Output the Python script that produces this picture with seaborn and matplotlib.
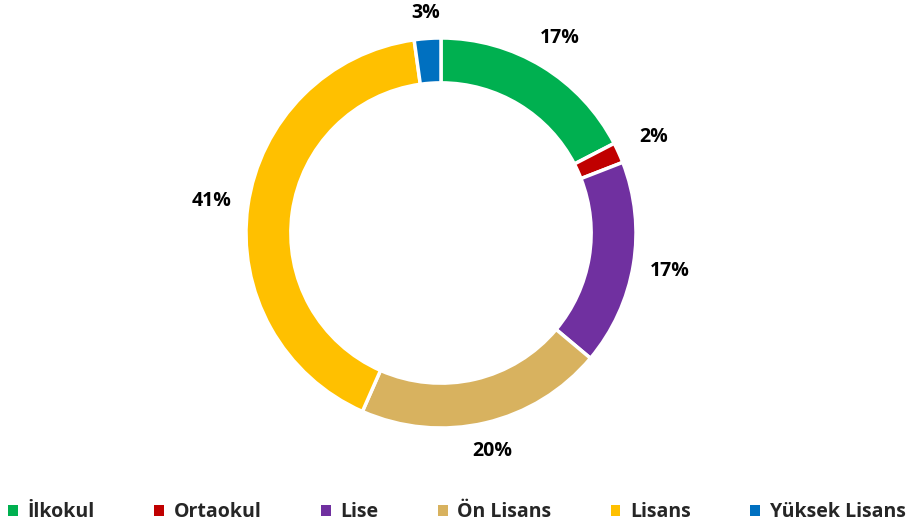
import matplotlib
matplotlib.use("Agg")
import matplotlib.pyplot as plt
import seaborn as sns
import numpy as np
from matplotlib.patches import Patch

# veri
kategoriler = ["İlkokul", "Ortaokul", "Lise", "Ön Lisans", "Lisans", "Yüksek Lisans"]
oranlar = [17.4, 1.7, 17.0, 20.5, 41.2, 2.2]      # dilim paylari (%)
etiketler = ["17%", "2%", "17%", "20%", "41%", "3%"]
renkler = ["#00B050", "#C00000", "#7030A0", "#D8B25F", "#FFC000", "#0070C0"]

sns.set_style("white")
plt.rcParams['font.family'] = ['Open Sans', 'DejaVu Sans']

fig = plt.figure(figsize=(9.14, 5.26), dpi=100)
W, H = 914, 526
cx, cy, r = 441, 233, 195
lim = 1.4
half = lim * r
ax = fig.add_axes([(cx - half) / W, (H - cy - half) / H, 2 * half / W, 2 * half / H])

wedges, _ = ax.pie(
    oranlar, colors=renkler, startangle=90, counterclock=False, radius=1,
    wedgeprops=dict(width=0.23, edgecolor='white', linewidth=2.5))
ax.set_xlim(-lim, lim)
ax.set_ylim(-lim, lim)
ax.axis('off')

# etiketler halkanin disinda
for w, t in zip(wedges, etiketler):
    a = np.deg2rad((w.theta1 + w.theta2) / 2)
    d = 1 + (15 + 21 * abs(np.cos(a)) + 9 * abs(np.sin(a))) / r
    ax.text(d * np.cos(a), d * np.sin(a), t, ha='center', va='center',
            fontsize=14, fontweight='bold', color='black')

handles = [Patch(facecolor=c, edgecolor='none') for c in renkler]
fig.legend(handles, kategoriler, loc='center', bbox_to_anchor=(0.5, 1 - 512 / H),
           ncol=6, frameon=False, handlelength=0.5, handleheight=0.5,
           handletextpad=0.5, columnspacing=3.05,
           prop=dict(size=14, weight='bold'))

fig.savefig('out.png', dpi=100)
